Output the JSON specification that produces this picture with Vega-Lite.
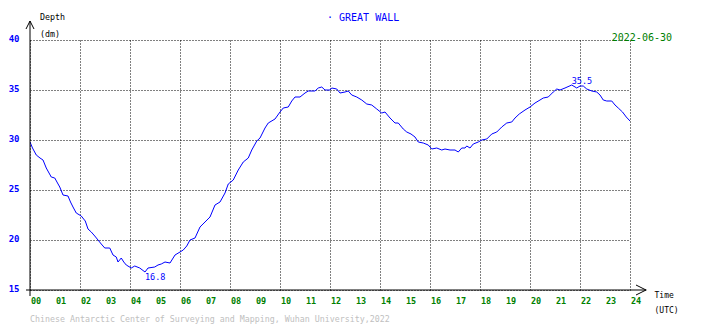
{
  "$schema": "https://vega.github.io/schema/vega-lite/v6.json",
  "width": 600,
  "height": 250,
  "autosize": {"type": "none"},
  "padding": {"left": 30, "top": 40, "right": 80, "bottom": 38},
  "background": "white",
  "config": {
    "view": {"stroke": null},
    "font": "DejaVu Sans Mono"
  },
  "datasets": {
    "tide": [
      {"h": 0.00, "v": 29.8}, {"h": 0.10, "v": 29.2}, {"h": 0.25, "v": 28.5}, {"h": 0.40, "v": 28.2},
      {"h": 0.52, "v": 28.0}, {"h": 0.65, "v": 27.2}, {"h": 0.85, "v": 26.3}, {"h": 0.99, "v": 26.2},
      {"h": 1.10, "v": 25.7}, {"h": 1.19, "v": 25.3}, {"h": 1.32, "v": 24.5}, {"h": 1.52, "v": 24.4},
      {"h": 1.62, "v": 23.8}, {"h": 1.72, "v": 23.3}, {"h": 1.85, "v": 22.7}, {"h": 2.05, "v": 22.4},
      {"h": 2.21, "v": 21.9}, {"h": 2.32, "v": 21.1}, {"h": 2.45, "v": 20.8}, {"h": 2.59, "v": 20.4},
      {"h": 2.72, "v": 20.0}, {"h": 2.85, "v": 19.6}, {"h": 2.99, "v": 19.2}, {"h": 3.19, "v": 19.2},
      {"h": 3.32, "v": 18.5}, {"h": 3.45, "v": 18.3}, {"h": 3.52, "v": 17.8}, {"h": 3.65, "v": 18.2},
      {"h": 3.75, "v": 17.8}, {"h": 3.85, "v": 17.5}, {"h": 4.05, "v": 17.2}, {"h": 4.19, "v": 17.4},
      {"h": 4.39, "v": 17.2}, {"h": 4.60, "v": 16.8}, {"h": 4.72, "v": 17.2}, {"h": 4.99, "v": 17.3},
      {"h": 5.12, "v": 17.5}, {"h": 5.25, "v": 17.6}, {"h": 5.40, "v": 17.8}, {"h": 5.60, "v": 17.7},
      {"h": 5.80, "v": 18.5}, {"h": 6.00, "v": 18.8}, {"h": 6.13, "v": 19.0}, {"h": 6.27, "v": 19.4},
      {"h": 6.40, "v": 20.0}, {"h": 6.60, "v": 20.2}, {"h": 6.80, "v": 21.3}, {"h": 7.00, "v": 21.8},
      {"h": 7.20, "v": 22.3}, {"h": 7.40, "v": 23.5}, {"h": 7.60, "v": 23.8}, {"h": 7.80, "v": 24.7},
      {"h": 7.93, "v": 25.6}, {"h": 8.13, "v": 26.0}, {"h": 8.33, "v": 27.0}, {"h": 8.53, "v": 27.8},
      {"h": 8.73, "v": 28.2}, {"h": 8.87, "v": 29.0}, {"h": 9.07, "v": 29.9}, {"h": 9.20, "v": 30.2},
      {"h": 9.40, "v": 31.2}, {"h": 9.53, "v": 31.7}, {"h": 9.80, "v": 32.1}, {"h": 10.00, "v": 32.8},
      {"h": 10.13, "v": 33.2}, {"h": 10.33, "v": 33.3}, {"h": 10.47, "v": 33.9}, {"h": 10.60, "v": 34.3},
      {"h": 10.80, "v": 34.3}, {"h": 11.00, "v": 34.7}, {"h": 11.13, "v": 34.9}, {"h": 11.40, "v": 34.9},
      {"h": 11.53, "v": 35.2}, {"h": 11.67, "v": 35.3}, {"h": 11.80, "v": 35.0}, {"h": 12.00, "v": 35.0},
      {"h": 12.07, "v": 35.2}, {"h": 12.27, "v": 35.1}, {"h": 12.40, "v": 34.7}, {"h": 12.60, "v": 34.8},
      {"h": 12.73, "v": 34.9}, {"h": 12.87, "v": 34.5}, {"h": 13.07, "v": 34.3}, {"h": 13.27, "v": 34.0},
      {"h": 13.47, "v": 33.6}, {"h": 13.67, "v": 33.5}, {"h": 13.87, "v": 33.1}, {"h": 14.07, "v": 32.7},
      {"h": 14.20, "v": 32.8}, {"h": 14.40, "v": 32.2}, {"h": 14.60, "v": 31.7}, {"h": 14.73, "v": 31.7},
      {"h": 14.93, "v": 31.1}, {"h": 15.07, "v": 30.8}, {"h": 15.24, "v": 30.6}, {"h": 15.40, "v": 30.3},
      {"h": 15.53, "v": 29.8}, {"h": 15.73, "v": 29.7}, {"h": 15.93, "v": 29.5}, {"h": 16.07, "v": 29.1},
      {"h": 16.27, "v": 29.2}, {"h": 16.47, "v": 29.0}, {"h": 16.60, "v": 29.1}, {"h": 16.80, "v": 29.0},
      {"h": 17.00, "v": 29.0}, {"h": 17.13, "v": 28.8}, {"h": 17.27, "v": 29.2}, {"h": 17.40, "v": 29.2},
      {"h": 17.47, "v": 29.4}, {"h": 17.60, "v": 29.2}, {"h": 17.73, "v": 29.6}, {"h": 17.93, "v": 29.8},
      {"h": 18.07, "v": 30.0}, {"h": 18.27, "v": 30.1}, {"h": 18.47, "v": 30.6}, {"h": 18.67, "v": 30.8},
      {"h": 18.87, "v": 31.3}, {"h": 19.07, "v": 31.7}, {"h": 19.27, "v": 31.8}, {"h": 19.40, "v": 32.2},
      {"h": 19.57, "v": 32.6}, {"h": 19.80, "v": 33.0}, {"h": 20.00, "v": 33.3}, {"h": 20.20, "v": 33.7},
      {"h": 20.40, "v": 34.0}, {"h": 20.53, "v": 34.2}, {"h": 20.73, "v": 34.3}, {"h": 20.93, "v": 34.8},
      {"h": 21.07, "v": 35.1}, {"h": 21.20, "v": 35.0}, {"h": 21.40, "v": 35.2}, {"h": 21.67, "v": 35.5},
      {"h": 21.87, "v": 35.2}, {"h": 22.00, "v": 35.4}, {"h": 22.13, "v": 35.4}, {"h": 22.27, "v": 35.1},
      {"h": 22.47, "v": 34.9}, {"h": 22.67, "v": 34.8}, {"h": 22.80, "v": 34.5}, {"h": 22.93, "v": 34.0},
      {"h": 23.07, "v": 33.9}, {"h": 23.27, "v": 33.9}, {"h": 23.40, "v": 33.5}, {"h": 23.53, "v": 33.2},
      {"h": 23.70, "v": 32.8}, {"h": 23.85, "v": 32.3}, {"h": 24.00, "v": 31.9}
    ],
    "hours": [
      {"h": 0}, {"h": 1}, {"h": 2}, {"h": 3}, {"h": 4}, {"h": 5}, {"h": 6}, {"h": 7}, {"h": 8},
      {"h": 9}, {"h": 10}, {"h": 11}, {"h": 12}, {"h": 13}, {"h": 14}, {"h": 15}, {"h": 16},
      {"h": 17}, {"h": 18}, {"h": 19}, {"h": 20}, {"h": 21}, {"h": 22}, {"h": 23}, {"h": 24}
    ],
    "extremes": [
      {"h": 4.60, "v": 16.8, "label": "16.8", "kind": "min"},
      {"h": 21.67, "v": 35.5, "label": "35.5", "kind": "max"}
    ],
    "one": [{}]
  },
  "layer": [
    {
      "data": {"name": "tide"},
      "mark": {"type": "line", "color": "#0000ff", "strokeWidth": 1, "clip": true},
      "encoding": {
        "x": {
          "field": "h", "type": "quantitative",
          "scale": {"domain": [0, 24], "nice": false, "zero": false},
          "axis": {
            "values": [0,1,2,3,4,5,6,7,8,9,10,11,12,13,14,15,16,17,18,19,20,21,22,23,24],
            "labels": false,
            "domain": false, "ticks": false,
            "grid": true, "gridColor": "#000000", "gridDash": [1, 2], "gridOpacity": 1, "gridWidth": 1,
            "title": ["Time", "(UTC)"], "titleAngle": 0, "titleAlign": "left", "titleBaseline": "alphabetic",
            "titleX": 624, "titleY": 7, "titleFont": "DejaVu Sans Mono", "titleFontSize": 8, "titleFontWeight": "normal",
            "titleColor": "#000000", "titleLineHeight": 15
          }
        },
        "y": {
          "field": "v", "type": "quantitative",
          "scale": {"domain": [15, 40], "nice": false, "zero": false},
          "axis": {
            "values": [15, 20, 25, 30, 35, 40],
            "labelOverlap": false, "labelBound": false, "labelFlush": false,
            "domain": false, "ticks": false,
            "grid": true, "gridColor": "#000000", "gridDash": [1, 2], "gridOpacity": 1, "gridWidth": 1,
            "labelColor": "#0000ff", "labelFont": "DejaVu Sans Mono", "labelFontSize": 9, "labelFontWeight": "bold",
            "labelAlign": "right", "labelBaseline": "middle", "labelPadding": 11, "labelOffset": -2,
            "title": ["Depth", "(dm)"], "titleAngle": 0, "titleAlign": "left", "titleBaseline": "alphabetic",
            "titleX": 9.5, "titleY": -21, "titleFont": "DejaVu Sans Mono", "titleFontSize": 8.3, "titleFontWeight": "normal",
            "titleColor": "#000000", "titleLineHeight": 17
          }
        }
      }
    },
    {
      "data": {"name": "hours"},
      "mark": {"type": "text", "color": "#008000", "font": "DejaVu Sans Mono", "fontSize": 8.5, "fontWeight": "bold", "align": "left", "baseline": "top", "dx": 1, "dy": 7},
      "encoding": {
        "x": {"field": "h", "type": "quantitative"},
        "y": {"datum": 15, "type": "quantitative"},
        "text": {"field": "h", "type": "quantitative", "format": "02d"}
      }
    },
    {
      "data": {"name": "one"},
      "mark": {"type": "rule", "color": "#000000", "strokeWidth": 1},
      "encoding": {
        "x": {"datum": 0, "type": "quantitative"},
        "y": {"datum": 14.4, "type": "quantitative"},
        "y2": {"datum": 41.9}
      }
    },
    {
      "data": {"name": "one"},
      "mark": {"type": "rule", "color": "#000000", "strokeWidth": 1},
      "encoding": {
        "y": {"datum": 15, "type": "quantitative"},
        "x": {"datum": -0.16, "type": "quantitative"},
        "x2": {"datum": 24.66}
      }
    },
    {
      "data": {"name": "one"},
      "mark": {"type": "point", "shape": "M-1,1L0,-1L1,1", "filled": false, "size": 64, "stroke": "#000000", "strokeWidth": 1, "opacity": 1},
      "encoding": {
        "x": {"datum": 0, "type": "quantitative"},
        "y": {"datum": 41.5, "type": "quantitative"}
      }
    },
    {
      "data": {"name": "one"},
      "mark": {"type": "point", "shape": "M-1,-1L1,0L-1,1", "filled": false, "size": 100, "stroke": "#000000", "strokeWidth": 1, "opacity": 1},
      "encoding": {
        "x": {"datum": 24.44, "type": "quantitative"},
        "y": {"datum": 15, "type": "quantitative"}
      }
    },
    {
      "data": {"name": "extremes"},
      "transform": [{"filter": "datum.kind == 'min'"}],
      "mark": {"type": "text", "color": "#0000ff", "font": "DejaVu Sans Mono", "fontSize": 8.5, "align": "left", "baseline": "top", "dy": 1},
      "encoding": {
        "x": {"field": "h", "type": "quantitative"},
        "y": {"field": "v", "type": "quantitative"},
        "text": {"field": "label"}
      }
    },
    {
      "data": {"name": "extremes"},
      "transform": [{"filter": "datum.kind == 'max'"}],
      "mark": {"type": "text", "color": "#0000ff", "font": "DejaVu Sans Mono", "fontSize": 8.5, "align": "left", "baseline": "alphabetic", "dy": -1},
      "encoding": {
        "x": {"field": "h", "type": "quantitative"},
        "y": {"field": "v", "type": "quantitative"},
        "text": {"field": "label"}
      }
    },
    {
      "data": {"name": "one"},
      "mark": {"type": "text", "text": "· GREAT WALL", "color": "#0000ff", "font": "DejaVu Sans Mono", "fontSize": 10, "align": "left", "baseline": "alphabetic"},
      "encoding": {
        "x": {"datum": 11.88, "type": "quantitative"},
        "y": {"datum": 41.95, "type": "quantitative"}
      }
    },
    {
      "data": {"name": "one"},
      "mark": {"type": "text", "text": "2022-06-30", "color": "#008000", "font": "DejaVu Sans Mono", "fontSize": 10, "align": "right", "baseline": "alphabetic"},
      "encoding": {
        "x": {"datum": 25.68, "type": "quantitative"},
        "y": {"datum": 39.95, "type": "quantitative"}
      }
    },
    {
      "data": {"name": "one"},
      "mark": {"type": "text", "text": "Chinese Antarctic Center of Surveying and Mapping, Wuhan University,2022", "color": "#c0c0c0", "font": "DejaVu Sans Mono", "fontSize": 8.3, "align": "left", "baseline": "alphabetic"},
      "encoding": {
        "x": {"datum": 0, "type": "quantitative"},
        "y": {"datum": 11.8, "type": "quantitative"}
      }
    }
  ]
}
